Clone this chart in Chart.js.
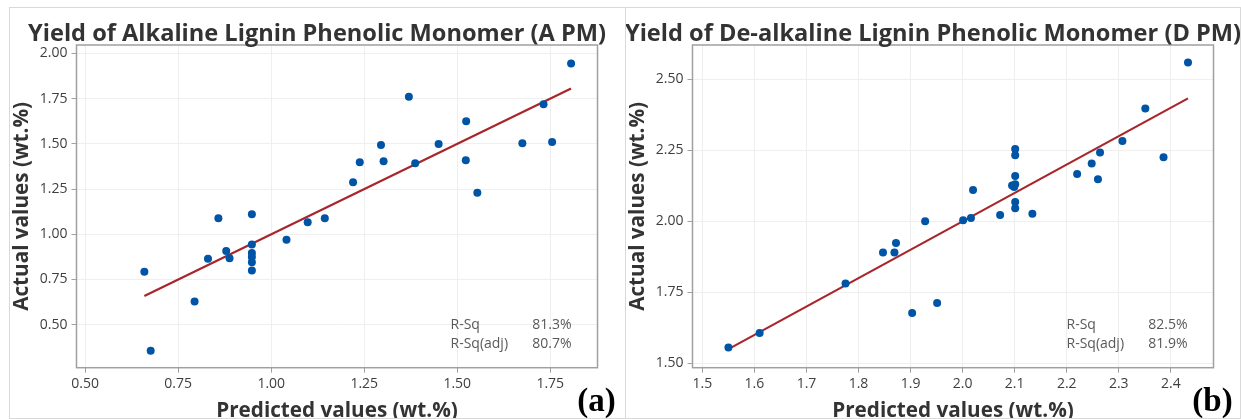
<!DOCTYPE html>
<html><head><meta charset="utf-8">
<script src="https://cdn.jsdelivr.net/npm/chart.js@4.4.1/dist/chart.umd.min.js"></script>
<style>
html,body{margin:0;padding:0;background:#fff;width:1241px;height:419px;overflow:hidden;}
#wrap{position:relative;width:1241px;height:419px;}
canvas{position:absolute;}
#cA{left:9px;top:7px;}
#cB{left:625px;top:7px;}
.frame{position:absolute;border:1px solid #d9d9d9;pointer-events:none;box-sizing:border-box;}
</style></head><body>
<div id="wrap">
<canvas id="cA" width="616" height="412"></canvas>
<canvas id="cB" width="616" height="412"></canvas>
<div class="frame" style="left:9px;top:7px;width:617px;height:412px;"></div>
<div class="frame" style="left:625px;top:7px;width:616px;height:412px;"></div>
</div>
<script>
// ---- text ----
const titleA = 'Yield of Alkaline Lignin Phenolic Monomer (A PM)';
const titleB = 'Yield of De-alkaline Lignin Phenolic Monomer (D PM)';
const xAxisTitle = 'Predicted values (wt.%)';
const yAxisTitle = 'Actual values (wt.%)';
const rsqLabels = ['R-Sq', 'R-Sq(adj)'];
const rsqValuesA = ['81.3%', '80.7%'];
const rsqValuesB = ['82.5%', '81.9%'];
const panelTagA = '(a)';
const panelTagB = '(b)';

// ---- panel (a) data ----
const predictedA = [1.806,1.370,1.732,1.524,1.295,1.450,1.675,1.755,1.238,1.302,1.387,1.523,1.220,1.554,
  0.948,0.858,1.098,1.144,1.041,0.948,0.879,0.948,0.948,0.948,0.948,0.830,0.888,0.659,0.794,0.676];
const actualA = [1.944,1.760,1.718,1.624,1.494,1.499,1.503,1.510,1.398,1.404,1.392,1.409,1.287,1.230,
  1.111,1.089,1.066,1.089,0.970,0.944,0.907,0.896,0.875,0.845,0.800,0.864,0.867,0.793,0.628,0.356];
const fitXA = [0.659, 1.806];
const fitYA = [0.659, 1.806];
const xTicksA = [0.50, 0.75, 1.00, 1.25, 1.50, 1.75];
const yTicksA = [0.50, 0.75, 1.00, 1.25, 1.50, 1.75, 2.00];

// ---- panel (b) data ----
const predictedB = [2.433,2.351,2.307,2.386,2.264,2.248,2.260,2.220,2.101,2.101,2.101,2.095,2.101,2.099,2.020,
  2.101,2.101,2.134,2.072,2.016,2.001,1.928,1.872,1.847,1.869,1.775,1.951,1.903,1.610,1.550];
const actualB = [2.559,2.397,2.283,2.226,2.242,2.204,2.148,2.167,2.255,2.233,2.160,2.126,2.131,2.121,2.110,
  2.068,2.046,2.027,2.022,2.012,2.004,2.000,1.924,1.890,1.890,1.781,1.712,1.677,1.607,1.556];
const fitXB = [1.550, 2.433];
const fitYB = [1.550, 2.433];
const xTicksB = [1.5, 1.6, 1.7, 1.8, 1.9, 2.0, 2.1, 2.2, 2.3, 2.4];
const yTicksB = [1.50, 1.75, 2.00, 2.25, 2.50];

// ---- styles ----
const FONT = '"Open Sans", "Noto Sans", sans-serif';
const BLUE = '#0054a6';
const RED = '#a8262b';
const GRID = '#efefef';
const AXIS = '#a0a0a0';
const TICK = '#3f3f3f';
const TITLE = '#333333';
const NOTE = '#595959';

function panelPlugin(p) {
  return {
    id: 'panel' + p.tag,
    beforeDatasetsDraw(chart) {
      const a = chart.chartArea, ctx = chart.ctx;
      ctx.save();
      ctx.strokeStyle = AXIS; ctx.lineWidth = 1.5;
      ctx.strokeRect(a.left, a.top, a.right - a.left, a.bottom - a.top);
      ctx.restore();
    },
    afterDraw(chart) {
      const a = chart.chartArea, ctx = chart.ctx, W = chart.width;
      ctx.save();
      ctx.fillStyle = TITLE;
      ctx.font = 'bold 23.6px ' + FONT;
      ctx.textAlign = 'center'; ctx.textBaseline = 'alphabetic';
      ctx.fillText(p.title, W / 2, 33.5);
      ctx.font = '14px ' + FONT;
      ctx.fillStyle = NOTE;
      ctx.textBaseline = 'middle';
      for (let i = 0; i < rsqLabels.length; i++) {
        const y = a.bottom - 42.7 + i * 19.3;
        ctx.textAlign = 'left';
        ctx.fillText(rsqLabels[i], a.right - 147, y);
        ctx.textAlign = 'right';
        ctx.fillText(p.rsq[i], a.right - 26, y);
      }
      ctx.fillStyle = '#000';
      ctx.font = 'bold 33px "Liberation Serif", "Times New Roman", serif';
      ctx.textAlign = 'center'; ctx.textBaseline = 'alphabetic';
      ctx.fillText(p.tag, a.right - 1, 403.7);
      ctx.restore();
    }
  };
}

function makeChart(id, p) {
  const pts = p.x.map((v, i) => ({x: v, y: p.y[i]}));
  const fit = p.fx.map((v, i) => ({x: v, y: p.fy[i]}));
  return new Chart(document.getElementById(id), {
    type: 'scatter',
    data: {datasets: [
      {data: pts, backgroundColor: BLUE, borderColor: BLUE, pointRadius: 4, pointHoverRadius: 4, borderWidth: 0},
      {data: fit, showLine: true, borderColor: RED, borderWidth: 2.2, pointRadius: 0, fill: false}
    ]},
    options: {
      responsive: false, animation: false, devicePixelRatio: 1, events: [],
      layout: {padding: {top: 38, right: 27.5, left: 0, bottom: 0}},
      plugins: {legend: {display: false}, tooltip: {enabled: false}, title: {display: false}},
      scales: {
        x: {
          type: 'linear', min: p.xmin, max: p.xmax,
          afterBuildTicks: ax => { ax.ticks = p.xt.map(v => ({value: v})); },
          afterFit: ax => { ax.height = 51.3; },
          ticks: {callback: v => Number(v).toFixed(p.xd), color: TICK, font: {family: FONT, size: 14}, padding: 3, maxRotation: 0, autoSkip: false},
          grid: {color: GRID, lineWidth: 1, tickLength: 5, tickColor: AXIS, tickWidth: 1},
          border: {display: false},
          title: {display: true, text: xAxisTitle, color: TITLE, font: {family: FONT, size: 20.7, weight: 'bold'}, padding: {top: 0, bottom: -4.5}}
        },
        y: {
          type: 'linear', min: p.ymin, max: p.ymax,
          afterBuildTicks: ax => { ax.ticks = p.yt.map(v => ({value: v})); },
          afterFit: ax => { ax.width = 67.5; },
          ticks: {callback: v => Number(v).toFixed(2), color: TICK, font: {family: FONT, size: 14}, padding: 4, autoSkip: false},
          grid: {color: GRID, lineWidth: 1, tickLength: 5, tickColor: AXIS, tickWidth: 1},
          border: {display: false},
          title: {display: true, text: yAxisTitle, color: TITLE, font: {family: FONT, size: 20.7, weight: 'bold'}, padding: {top: 1, bottom: 0}}
        }
      }
    },
    plugins: [panelPlugin(p)]
  });
}

makeChart('cA', {x: predictedA, y: actualA, fx: fitXA, fy: fitYA, xt: xTicksA, yt: yTicksA, xd: 2,
  xmin: 0.4766, xmax: 1.877, ymin: 0.2625, ymax: 2.046, title: titleA, rsq: rsqValuesA, tag: panelTagA});
makeChart('cB', {x: predictedB, y: actualB, fx: fitXB, fy: fitYB, xt: xTicksB, yt: yTicksB, xd: 1,
  xmin: 1.481, xmax: 2.482, ymin: 1.4845, ymax: 2.621, title: titleB, rsq: rsqValuesB, tag: panelTagB});
</script>
</body></html>
